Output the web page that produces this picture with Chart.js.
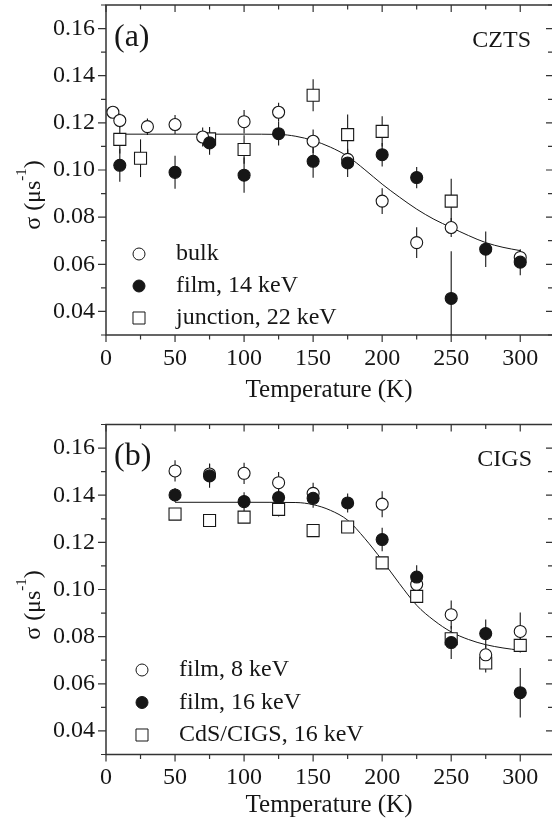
<!DOCTYPE html>
<html><head><meta charset="utf-8">
<script src="https://cdn.jsdelivr.net/npm/chart.js@4.4.1/dist/chart.umd.min.js"></script>
<style>
html,body{margin:0;padding:0;background:#fff;width:552px;height:823px;overflow:hidden;}
canvas{position:absolute;left:0;}
#ca{top:0;width:552px;height:405px;}
#cb{top:410px;width:552px;height:410px;}
</style></head><body>
<canvas id="ca" width="552" height="405"></canvas>
<canvas id="cb" width="552" height="410"></canvas>
<script>
// ---------- tick labels ----------
const xTickValues = [0, 50, 100, 150, 200, 250, 300];
const yTickValues = [0.04, 0.06, 0.08, 0.10, 0.12, 0.14, 0.16];
const xTitle = 'Temperature (K)';

// ---------- panel (a) CZTS ----------
const cztsBulkT     = [5, 10, 30, 50, 70, 100, 125, 150, 175, 200, 225, 250, 300];
const cztsBulkSigma = [0.1245, 0.121, 0.1184, 0.1193, 0.114, 0.1205, 0.1245, 0.1122, 0.1045, 0.0868, 0.0692, 0.0756, 0.0629];
const cztsBulkErr   = [0, 0.003, 0.0035, 0.004, 0.004, 0.005, 0.004, 0.005, 0.004, 0.0055, 0.0065, 0.004, 0.003];

const cztsFilmT     = [10, 50, 75, 100, 125, 150, 175, 200, 225, 250, 275, 300];
const cztsFilmSigma = [0.102, 0.099, 0.1115, 0.0978, 0.1154, 0.1037, 0.103, 0.1065, 0.0968, 0.0455, 0.0664, 0.0609];
const cztsFilmErr   = [0.007, 0.007, 0.005, 0.0075, 0.005, 0.007, 0.006, 0.005, 0.0045, 0.020, 0.0075, 0.0055];

const cztsJuncT     = [10, 25, 75, 100, 150, 175, 200, 250];
const cztsJuncSigma = [0.113, 0.105, 0.1132, 0.1087, 0.1317, 0.115, 0.1164, 0.0868];
const cztsJuncErr   = [0.006, 0.008, 0.005, 0.006, 0.0068, 0.0085, 0.0064, 0.0095];

const cztsFitT      = [8, 50, 100, 125, 137.5, 150, 162.5, 175, 187.5, 200, 212.5, 225, 237.5, 250, 262.5, 275, 287.5, 300];
const cztsFitSigma  = [0.1152, 0.1152, 0.1152, 0.1151, 0.1143, 0.1125, 0.1097, 0.1058, 0.1001, 0.0940, 0.0885, 0.0834, 0.0791, 0.0756, 0.0722, 0.0692, 0.0672, 0.0658];

const cztsLabels = ['bulk', 'film, 14 keV', 'junction, 22 keV'];

// ---------- panel (b) CIGS ----------
const cigsF8T       = [50, 75, 100, 125, 150, 200, 225, 250, 275, 300];
const cigsF8Sigma   = [0.1503, 0.149, 0.1493, 0.1453, 0.1408, 0.1362, 0.1022, 0.0893, 0.0723, 0.0822];
const cigsF8Err     = [0.0045, 0.0045, 0.0045, 0.0045, 0.0045, 0.0055, 0.004, 0.006, 0.004, 0.008];

const cigsF16T      = [50, 75, 100, 125, 150, 175, 200, 225, 250, 275, 300];
const cigsF16Sigma  = [0.1401, 0.1482, 0.1373, 0.139, 0.1387, 0.1367, 0.1212, 0.1053, 0.0775, 0.0813, 0.0562];
const cigsF16Err    = [0.003, 0.005, 0.004, 0.004, 0.004, 0.004, 0.005, 0.005, 0.007, 0.006, 0.0105];

const cigsCdsT      = [50, 75, 100, 125, 150, 175, 200, 225, 250, 275, 300];
const cigsCdsSigma  = [0.132, 0.1293, 0.1307, 0.134, 0.125, 0.1265, 0.1113, 0.0971, 0.0791, 0.0688, 0.0763];
const cigsCdsErr    = [0.002, 0.002, 0.002, 0.003, 0.002, 0.002, 0.002, 0.002, 0.002, 0.004, 0.003];

const cigsFitT      = [50, 100, 137.5, 150, 162.5, 175, 187.5, 200, 212.5, 225, 237.5, 250, 262.5, 275, 287.5, 300];
const cigsFitSigma  = [0.137, 0.137, 0.1369, 0.136, 0.1336, 0.1294, 0.1216, 0.1124, 0.1025, 0.0933, 0.0869, 0.0820, 0.0788, 0.0766, 0.0752, 0.0742];

const cigsLabels = ['film, 8 keV', 'film, 16 keV', 'CdS/CIGS, 16 keV'];

// ---------- helpers ----------
const FONT = "'Liberation Serif', 'DejaVu Serif', serif";
const INK = '#161616';
const pts = (xs, ys) => xs.map((x, i) => ({x: x, y: ys[i]}));

const openCircle = {pointStyle: 'circle', pointRadius: 6, backgroundColor: '#ffffff', borderColor: INK, borderWidth: 1.1};
const filledCircle = {pointStyle: 'circle', pointRadius: 6, backgroundColor: INK, borderColor: INK, borderWidth: 1.1};
const openSquare = {pointStyle: 'rect', pointRadius: 8.5, backgroundColor: '#ffffff', borderColor: INK, borderWidth: 1.1};

function series(label, xs, ys, errs, style, order) {
  return Object.assign({label: label, data: pts(xs, ys), errorBars: errs, showLine: false, order: order,
    pointHoverRadius: style.pointRadius}, style);
}
function fitLine(xs, ys) {
  return {label: 'fit', data: pts(xs, ys), showLine: true, pointRadius: 0, borderColor: INK,
    borderWidth: 1, cubicInterpolationMode: 'monotone', fill: false, order: 5};
}

const framePlugin = {
  id: 'frame',
  beforeDatasetsDraw(chart) {
    const {ctx, chartArea: a, scales: {x, y}} = chart;
    ctx.save();
    ctx.strokeStyle = '#333';
    ctx.lineWidth = 1.5;
    ctx.beginPath();
    ctx.moveTo(a.right + 2, a.top); ctx.lineTo(a.left, a.top);
    ctx.lineTo(a.left, a.bottom); ctx.lineTo(a.right + 2, a.bottom);
    ctx.stroke();
    ctx.lineWidth = 1.2;
    ctx.beginPath();
    for (let v = 0; v <= x.max; v += 25) {
      const px = x.getPixelForValue(v);
      const L = (v % 50 === 0) ? 7 : 4.5;
      ctx.moveTo(px, a.bottom); ctx.lineTo(px, a.bottom + L);
      ctx.moveTo(px, a.top); ctx.lineTo(px, a.top + L);
    }
    for (let k = 3; k <= 17; k++) {
      const py = y.getPixelForValue(k / 100);
      const major = (k % 2 === 0);
      const L = major ? 8 : 5;
      ctx.moveTo(a.left, py); ctx.lineTo(a.left - L, py);
      ctx.moveTo(a.right, py); ctx.lineTo(a.right - (major ? 6 : 4), py);
    }
    ctx.stroke();
    // error bars
    ctx.save();
    ctx.beginPath();
    ctx.rect(a.left, a.top, a.right - a.left, a.bottom - a.top);
    ctx.clip();
    ctx.strokeStyle = INK;
    ctx.lineWidth = 1.1;
    chart.data.datasets.forEach(ds => {
      if (!ds.errorBars) return;
      ds.data.forEach((p, i) => {
        const e = ds.errorBars[i];
        if (!e) return;
        const px = x.getPixelForValue(p.x);
        ctx.beginPath();
        ctx.moveTo(px, y.getPixelForValue(p.y - e));
        ctx.lineTo(px, y.getPixelForValue(p.y + e));
        ctx.stroke();
      });
    });
    ctx.restore();
    ctx.restore();
  },
  afterDraw(chart, args, opts) {
    const ctx = chart.ctx;
    ctx.save();
    ctx.fillStyle = INK;
    // panel letter
    ctx.font = '32px ' + FONT;
    ctx.textAlign = 'left'; ctx.textBaseline = 'middle';
    ctx.fillText(opts.letter, opts.letterX, opts.letterY);
    // material
    ctx.font = '24px ' + FONT;
    ctx.textAlign = 'right';
    ctx.fillText(opts.material, opts.matX, opts.matY);
    // legend
    const styles = opts.legendStyles;
    opts.legendLabels.forEach((lab, i) => {
      const yy = opts.legY + i * opts.legStep;
      const st = styles[i];
      ctx.fillStyle = st.backgroundColor;
      ctx.strokeStyle = st.borderColor;
      Chart.helpers.drawPoint(ctx, {pointStyle: st.pointStyle, radius: st.pointRadius, rotation: 0, borderWidth: st.borderWidth}, opts.legSymX, yy);
      ctx.fillStyle = INK;
      ctx.font = '24px ' + FONT;
      ctx.textAlign = 'left'; ctx.textBaseline = 'middle';
      ctx.fillText(lab, opts.legTextX, yy);
    });
    // y axis title (rotated)
    ctx.translate(opts.yTitleX, opts.yTitleY);
    ctx.rotate(-Math.PI / 2);
    ctx.textBaseline = 'alphabetic';
    ctx.font = '24px ' + FONT;
    const p1 = 'σ (μs', sup = '-1', p2 = ')';
    const w1 = ctx.measureText(p1).width;
    ctx.font = '15px ' + FONT;
    const ws = ctx.measureText(sup).width;
    ctx.font = '24px ' + FONT;
    const w2 = ctx.measureText(p2).width;
    let sx = -(w1 + ws + w2) / 2;
    ctx.textAlign = 'left';
    ctx.fillText(p1, sx, 0);
    ctx.font = '15px ' + FONT;
    ctx.fillText(sup, sx + w1, -14);
    ctx.font = '24px ' + FONT;
    ctx.fillText(p2, sx + w1 + ws, 0);
    ctx.restore();
  }
};

function makeChart(id, datasets, xAxisH, padTop, frameOpts) {
  return new Chart(document.getElementById(id), {
    type: 'scatter',
    data: {datasets: datasets},
    plugins: [framePlugin],
    options: {
      responsive: false, animation: false, devicePixelRatio: 1,
      layout: {autoPadding: false, padding: {top: padTop, left: 0, right: 0, bottom: 0}},
      plugins: {legend: {display: false}, tooltip: {enabled: false}, frame: frameOpts},
      scales: {
        x: {
          type: 'linear', min: 0, max: 323, position: 'bottom',
          afterBuildTicks: s => { s.ticks = xTickValues.map(v => ({value: v})); },
          afterFit: s => { s.height = xAxisH; s.paddingLeft = 0; s.paddingRight = 0; },
          grid: {display: false, drawTicks: false}, border: {display: false},
          ticks: {padding: 9, autoSkip: false, maxRotation: 0, color: INK,
                  font: {family: FONT, size: 24}, callback: v => String(v)},
          title: {display: true, text: xTitle, color: INK, font: {family: FONT, size: 25},
                  padding: {top: 0, bottom: 0}}
        },
        y: {
          type: 'linear', min: 0.03, max: 0.17, position: 'left',
          afterBuildTicks: s => { s.ticks = yTickValues.map(v => ({value: v})); },
          afterFit: s => { s.width = 106; s.paddingTop = 0; s.paddingBottom = 0; },
          grid: {display: false, drawTicks: false}, border: {display: false},
          ticks: {padding: 11, color: INK, font: {family: FONT, size: 24},
                  callback: v => Number(v).toFixed(2)}
        }
      }
    }
  });
}

makeChart('ca', [
  series(cztsLabels[1], cztsFilmT, cztsFilmSigma, cztsFilmErr, filledCircle, 0),
  series(cztsLabels[0], cztsBulkT, cztsBulkSigma, cztsBulkErr, openCircle, 1),
  series(cztsLabels[2], cztsJuncT, cztsJuncSigma, cztsJuncErr, openSquare, 2),
  fitLine(cztsFitT, cztsFitSigma)
], 70, 5, {
  letter: '(a)', letterX: 114, letterY: 38, material: 'CZTS', matX: 531, matY: 41,
  legendLabels: cztsLabels, legendStyles: [openCircle, filledCircle, openSquare],
  legSymX: 139, legTextX: 176, legY: 254, legStep: 32,
  yTitleX: 40, yTitleY: 195
});

makeChart('cb', [
  series(cigsLabels[1], cigsF16T, cigsF16Sigma, cigsF16Err, filledCircle, 0),
  series(cigsLabels[0], cigsF8T, cigsF8Sigma, cigsF8Err, openCircle, 1),
  series(cigsLabels[2], cigsCdsT, cigsCdsSigma, cigsCdsErr, openSquare, 2),
  fitLine(cigsFitT, cigsFitSigma)
], 65.5, 14.5, {
  letter: '(b)', letterX: 114, letterY: 47, material: 'CIGS', matX: 532, matY: 50,
  legendLabels: cigsLabels, legendStyles: [openCircle, filledCircle, openSquare],
  legSymX: 142, legTextX: 179, legY: 260, legStep: 32.5,
  yTitleX: 40, yTitleY: 195
});
</script></body></html>
